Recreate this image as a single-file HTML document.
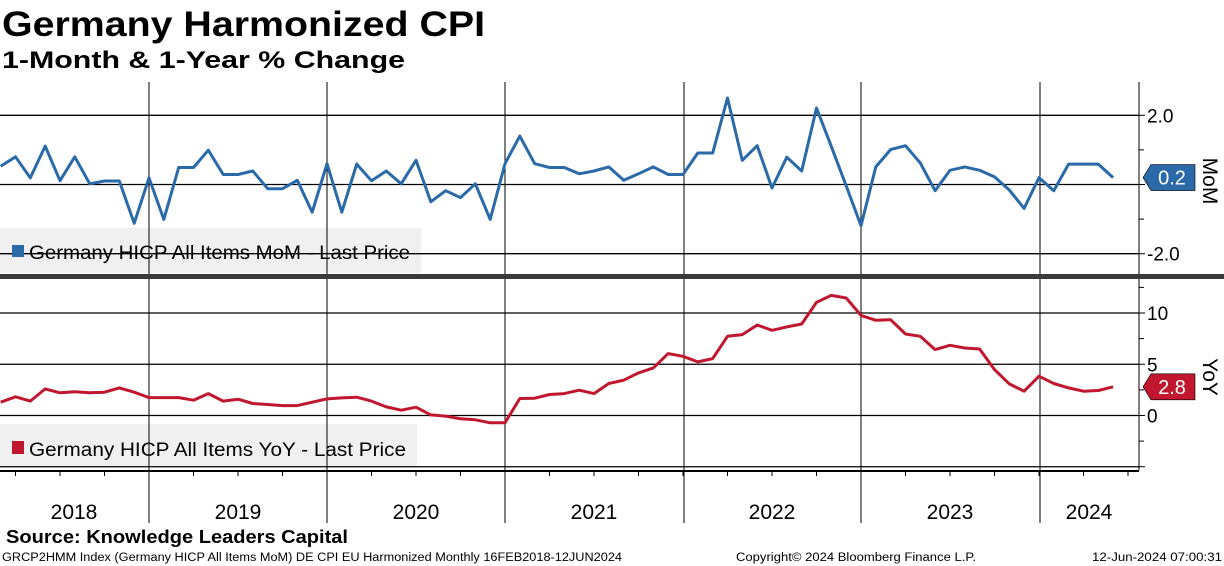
<!DOCTYPE html>
<html><head><meta charset="utf-8">
<style>
html,body{margin:0;padding:0;background:#fff;width:1224px;height:566px;overflow:hidden;font-family:"Liberation Sans",sans-serif}
svg{display:block}
</style></head>
<body>
<svg id="chart" width="1224" height="566" viewBox="0 0 1224 566">
<text x="2" y="36" font-size="35" font-weight="bold" fill="#000" textLength="483" lengthAdjust="spacingAndGlyphs">Germany Harmonized CPI</text>
<text x="2" y="68" font-size="24" font-weight="bold" fill="#000" textLength="403" lengthAdjust="spacingAndGlyphs">1-Month &amp; 1-Year % Change</text>
<g id="grid"></g>
<g id="series"></g>
<g id="labels"></g>
<text x="6" y="543" font-size="18" font-weight="bold" fill="#000" textLength="342" lengthAdjust="spacingAndGlyphs">Source: Knowledge Leaders Capital</text>
<text x="2" y="561" font-size="11.5" fill="#000" textLength="620" lengthAdjust="spacingAndGlyphs">GRCP2HMM Index (Germany HICP All Items MoM) DE CPI EU Harmonized  Monthly 16FEB2018-12JUN2024</text>
<text x="736" y="561" font-size="11.5" fill="#000" textLength="240" lengthAdjust="spacingAndGlyphs">Copyright© 2024 Bloomberg Finance L.P.</text>
<text x="1092" y="561" font-size="11.5" fill="#000" textLength="130" lengthAdjust="spacingAndGlyphs">12-Jun-2024 07:00:31</text>
</svg>
<script>
const years = ["2018","2019","2020","2021","2022","2023","2024"];
const momValues = [0.53,0.80,0.19,1.11,0.11,0.80,0.02,0.10,0.10,-1.12,0.19,-1.01,0.49,0.49,0.99,0.29,0.29,0.39,-0.12,-0.12,0.12,-0.80,0.60,-0.80,0.59,0.11,0.39,0.02,0.70,-0.50,-0.18,-0.38,0.02,-1.01,0.60,1.40,0.60,0.49,0.49,0.31,0.39,0.51,0.12,0.31,0.51,0.29,0.29,0.91,0.91,2.50,0.70,1.12,-0.10,0.79,0.39,2.21,1.10,-0.04,-1.19,0.51,1.01,1.12,0.62,-0.18,0.41,0.51,0.41,0.22,-0.16,-0.69,0.20,-0.18,0.59,0.59,0.59,0.20];
const yoyValues = [1.30,1.82,1.40,2.60,2.21,2.31,2.21,2.27,2.69,2.27,1.75,1.75,1.75,1.49,2.14,1.40,1.59,1.17,1.07,0.97,0.97,1.30,1.62,1.72,1.79,1.40,0.84,0.52,0.81,0.06,-0.06,-0.32,-0.42,-0.71,-0.71,1.66,1.69,2.05,2.14,2.47,2.14,3.12,3.44,4.16,4.64,6.04,5.78,5.23,5.55,7.73,7.89,8.83,8.31,8.64,8.93,11.04,11.72,11.46,9.77,9.29,9.35,7.95,7.73,6.43,6.85,6.59,6.49,4.48,3.08,2.37,3.83,3.12,2.69,2.37,2.44,2.80];
const momTicks = [2.0,0,-2.0];
const momTickLabels = ["2.0","","-2.0"];
const yoyTicks = [10,5,0,-5];
const yoyTickLabels = ["10","5","0",""];

const NS="http://www.w3.org/2000/svg";
const AX=1139;
function xOf(i){return 149+(i-10)*14.833;}
function yMom(v){return 184.5-v*34.6;}
function yYoy(v){return 415.5-v*10.25;}
function mk(tag,attrs,parent){const e=document.createElementNS(NS,tag);for(const k in attrs)e.setAttribute(k,attrs[k]);parent.appendChild(e);return e;}
const grid=document.getElementById('grid'), ser=document.getElementById('series'), lab=document.getElementById('labels');

let lb=mk('rect',{x:0,y:228,width:421,height:45,fill:'#f0f0f0'},grid);

lb=mk('rect',{x:0,y:424,width:417,height:43,fill:'#f0f0f0'},grid);


const yearBounds=[149,327,505,684,861,1040];
yearBounds.forEach((x,k)=>{const l=mk('line',{x1:x,y1:82,x2:x,y2:523,stroke:'#000','stroke-width':1},grid);
});
momTicks.forEach((v,k)=>{const l=mk('line',{x1:0,y1:yMom(v),x2:AX,y2:yMom(v),stroke:'#000','stroke-width':1.3},grid);

const t=mk('text',{x:1147,y:yMom(v)+7,'font-size':19,fill:'#000'},lab);t.textContent=momTickLabels[k];

mk('line',{x1:AX,y1:yMom(v),x2:AX+6,y2:yMom(v),stroke:'#000','stroke-width':1},grid);});
[1,-1].forEach(v=>mk('line',{x1:AX,y1:yMom(v),x2:AX+5,y2:yMom(v),stroke:'#000'},grid));
yoyTicks.forEach((v,k)=>{const l=mk('line',{x1:0,y1:yYoy(v),x2:AX,y2:yYoy(v),stroke:'#000','stroke-width':1.3},grid);

const t=mk('text',{x:1147,y:yYoy(v)+7,'font-size':19,fill:'#000'},lab);t.textContent=yoyTickLabels[k];

mk('line',{x1:AX,y1:yYoy(v),x2:AX+6,y2:yYoy(v),stroke:'#000'},grid);});
[12.5,7.5,2.5,-2.5].forEach(v=>mk('line',{x1:AX,y1:yYoy(v),x2:AX+5,y2:yYoy(v),stroke:'#000'},grid));
mk('line',{x1:AX,y1:82,x2:AX,y2:470,stroke:'#000','stroke-width':1},grid);
let sep=mk('rect',{x:0,y:274,width:1224,height:5,fill:'#3a3a3a'},grid);

mk('line',{x1:0,y1:471,x2:AX,y2:471,stroke:'#000','stroke-width':2},grid);
for(let i=0;i<26;i++){const x=15.5+i*44.5;if(x<AX)mk('line',{x1:x,y1:471,x2:x,y2:476,stroke:'#000'},grid);}
const yearCenters=[74,238,416,594,772,950,1089];
years.forEach((y,k)=>{const t=mk('text',{x:yearCenters[k],y:519,'font-size':21,'text-anchor':'middle',fill:'#000'},lab);t.textContent=y;
});

function line(vals,yf,color,name){const d=vals.map((v,i)=>(i?'L':'M')+xOf(i).toFixed(1)+' '+yf(v).toFixed(1)).join(' ');
const p=mk('path',{d:d,fill:'none',stroke:color,'stroke-width':3,'stroke-linejoin':'round'},ser);
}
line(momValues,yMom,'#2b6aa8','mom-line');
line(yoyValues,yYoy,'#c0172f','yoy-line');

let r=mk('rect',{x:12,y:245,width:12,height:12,fill:'#2b6aa8'},lab);

let t=mk('text',{x:29,y:259,'font-size':19,fill:'#000',textLength:381,lengthAdjust:'spacingAndGlyphs'},lab);t.textContent='Germany HICP All Items MoM - Last Price';

r=mk('rect',{x:12,y:441,width:12,height:13,fill:'#c0172f'},lab);

t=mk('text',{x:29,y:456,'font-size':19,fill:'#000',textLength:377,lengthAdjust:'spacingAndGlyphs'},lab);t.textContent='Germany HICP All Items YoY - Last Price';


function badge(v,yf,color,name){const y=yf(v);
const p=mk('path',{d:`M1143 ${y} L1151 ${y-13} L1195 ${y-13} L1195 ${y+13} L1151 ${y+13} Z`,fill:color,stroke:'#000','stroke-width':0.6},lab);

const tx=mk('text',{x:1172,y:y+7,'font-size':20,fill:'#fff','text-anchor':'middle'},lab);tx.textContent=v.toFixed(1);
}
badge(momValues[momValues.length-1],yMom,'#2b6aa8','mom');
badge(yoyValues[yoyValues.length-1],yYoy,'#c0172f','yoy');

t=mk('text',{x:0,y:0,'font-size':21,fill:'#000','text-anchor':'middle',transform:'translate(1203,181) rotate(90)'},lab);t.textContent='MoM';

t=mk('text',{x:0,y:0,'font-size':21,fill:'#000','text-anchor':'middle',transform:'translate(1203,377) rotate(90)'},lab);t.textContent='YoY';

</script>
</body></html>
